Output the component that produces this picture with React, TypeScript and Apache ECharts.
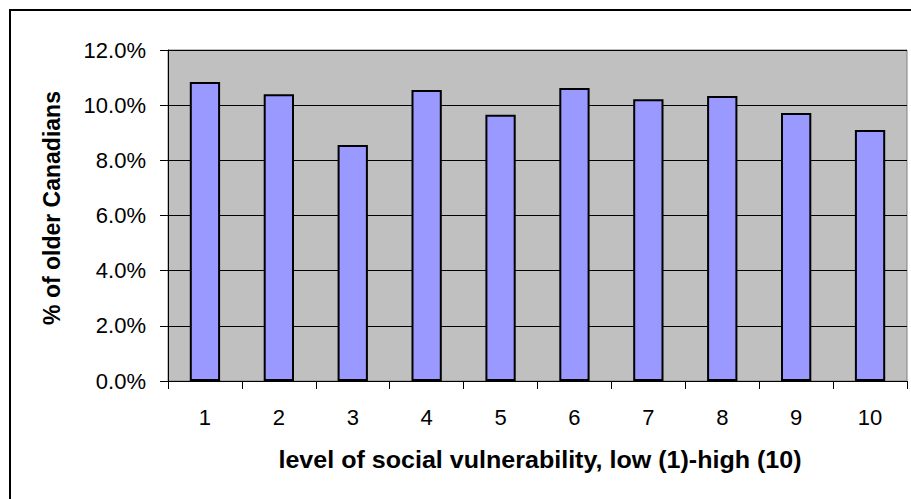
import React, { useEffect, useRef } from "react";
import * as echarts from "echarts";

// Vulnerability deciles and share of older Canadians in each (%)
const categories = ["1", "2", "3", "4", "5", "6", "7", "8", "9", "10"];
const shares = [10.84, 10.4, 8.56, 10.55, 9.65, 10.62, 10.21, 10.33, 9.72, 9.1];
const yTicks = { min: 0, max: 12, interval: 2 };

const xTitle = "level of social vulnerability, low (1)-high (10)";
const yTitle = "% of older Canadians";

const FONT = "'Liberation Sans', Arial, sans-serif";

export default function App() {
  const ref = useRef<HTMLDivElement>(null);

  useEffect(() => {
    if (!ref.current) return;
    const chart = echarts.init(ref.current, undefined, { renderer: "svg" });
    chart.setOption({
      animation: false,
      backgroundColor: "#ffffff",
      textStyle: { fontFamily: FONT, color: "#000" },
      graphic: [
        {
          type: "rect",
          shape: { x: 10, y: 10, width: 940, height: 540 },
          style: { fill: "none", stroke: "#000", lineWidth: 2 },
          silent: true,
          z: -1,
        },
        {
          // horizontal axis title, drawn slightly widened
          type: "text",
          x: 540,
          y: 460,
          scaleX: 1.09,
          style: {
            text: xTitle,
            fontFamily: FONT,
            fontSize: 23,
            fontWeight: "bold",
            fill: "#000",
            align: "center",
            verticalAlign: "middle",
          },
          silent: true,
        },
        {
          // vertical axis title
          type: "text",
          x: 52,
          y: 208,
          rotation: Math.PI / 2,
          style: {
            text: yTitle,
            fontFamily: FONT,
            fontSize: 23,
            fontWeight: "bold",
            fill: "#000",
            align: "center",
            verticalAlign: "middle",
          },
          silent: true,
        },
      ],
      grid: {
        left: 168,
        top: 50,
        right: 4,
        bottom: 118,
        show: true,
        backgroundColor: "#C0C0C0",
        borderColor: "#808080",
        borderWidth: 1,
      },
      xAxis: {
        type: "category",
        data: categories,
        boundaryGap: true,
        axisLine: { show: true, lineStyle: { color: "#000", width: 1 } },
        axisTick: { show: true, alignWithLabel: false, length: 8, lineStyle: { color: "#000" } },
        axisLabel: { fontFamily: FONT, fontSize: 22, color: "#000", margin: 25 },
        splitLine: { show: false },
      },
      yAxis: {
        type: "value",
        min: yTicks.min,
        max: yTicks.max,
        interval: yTicks.interval,
        axisLine: { show: true, lineStyle: { color: "#000", width: 1 } },
        axisTick: { show: true, length: 8, lineStyle: { color: "#000" } },
        axisLabel: {
          fontFamily: FONT,
          fontSize: 22,
          color: "#000",
          margin: 22,
          formatter: (v: number) => v.toFixed(1) + "%",
        },
        splitLine: { show: true, lineStyle: { color: "#000", width: 1 } },
      },
      series: [
        {
          type: "bar",
          data: shares,
          barWidth: "41%",
          itemStyle: { color: "#9999FF", borderColor: "#000", borderWidth: 2 },
        },
      ],
    });
    return () => chart.dispose();
  }, []);

  return (
    <div
      ref={ref}
      style={{ position: "fixed", left: 0, top: 0, width: 911, height: 499 }}
    />
  );
}
